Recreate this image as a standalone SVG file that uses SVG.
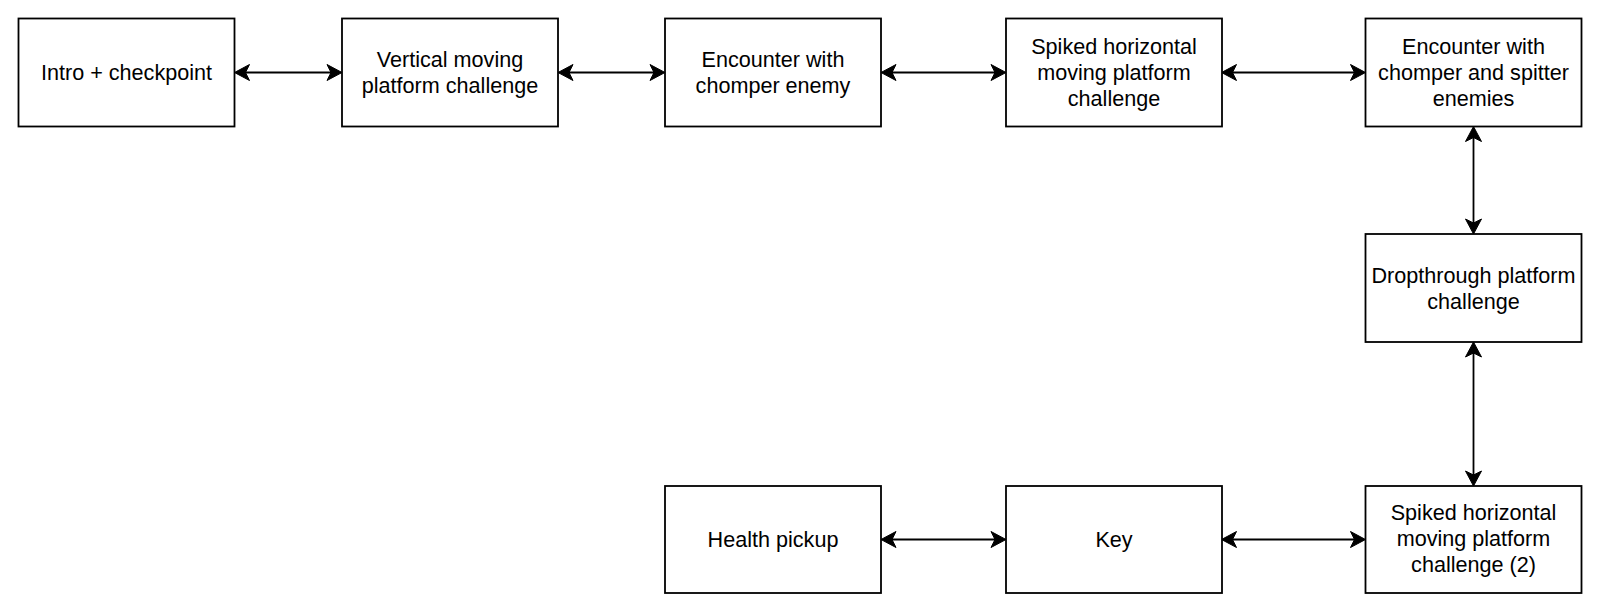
<svg xmlns="http://www.w3.org/2000/svg" width="1600" height="612" viewBox="0 0 1600 612">
<style>
.box{fill:#fff;stroke:#000;stroke-width:1.8}
.lbl{font-family:"Liberation Sans",Arial,Helvetica,sans-serif;font-size:21.6px;fill:#000;text-anchor:middle}
.edge{stroke:#000;stroke-width:1.8;fill:none;marker-start:url(#arr);marker-end:url(#arr)}
</style>
<defs>
<marker id="arr" markerUnits="userSpaceOnUse" viewBox="-16 -9 17 18" refX="-4" refY="0" markerWidth="17" markerHeight="18" orient="auto-start-reverse">
<path d="M0,0 L-15,-8 L-11,0 L-15,8 Z" fill="#000" stroke="#000" stroke-width="1" stroke-linejoin="miter"/>
</marker>
</defs>
<rect width="1600" height="612" fill="#fff"/>
<g id="connectors">
<line class="edge" x1="238.5" y1="72.5" x2="338" y2="72.5"/>
<line class="edge" x1="562" y1="72.5" x2="661" y2="72.5"/>
<line class="edge" x1="885" y1="72.5" x2="1002" y2="72.5"/>
<line class="edge" x1="1225.5" y1="72.5" x2="1361.5" y2="72.5"/>
<line class="edge" x1="1473.5" y1="130.5" x2="1473.5" y2="230"/>
<line class="edge" x1="1473.5" y1="346" x2="1473.5" y2="482"/>
<line class="edge" x1="885" y1="539.5" x2="1002" y2="539.5"/>
<line class="edge" x1="1225.5" y1="539.5" x2="1361.5" y2="539.5"/>
</g>
<g id="n1"><rect class="box" x="18.5" y="18.5" width="216" height="108"/><text class="lbl" x="126.5" y="80">Intro + checkpoint</text></g>
<g id="n2"><rect class="box" x="342" y="18.5" width="216" height="108"/><text class="lbl" x="450" y="67">Vertical moving</text><text class="lbl" x="450" y="93">platform challenge</text></g>
<g id="n3"><rect class="box" x="665" y="18.5" width="216" height="108"/><text class="lbl" x="773" y="67">Encounter with</text><text class="lbl" x="773" y="93">chomper enemy</text></g>
<g id="n4"><rect class="box" x="1006" y="18.5" width="216" height="108"/><text class="lbl" x="1114" y="54">Spiked horizontal</text><text class="lbl" x="1114" y="80">moving platform</text><text class="lbl" x="1114" y="106">challenge</text></g>
<g id="n5"><rect class="box" x="1365.5" y="18.5" width="216" height="108"/><text class="lbl" x="1473.5" y="54">Encounter with</text><text class="lbl" x="1473.5" y="80">chomper and spitter</text><text class="lbl" x="1473.5" y="106">enemies</text></g>
<g id="n6"><rect class="box" x="1365.5" y="234" width="216" height="108"/><text class="lbl" x="1473.5" y="282.5">Dropthrough platform</text><text class="lbl" x="1473.5" y="308.5">challenge</text></g>
<g id="n7"><rect class="box" x="1365.5" y="486" width="216" height="107"/><text class="lbl" x="1473.5" y="520">Spiked horizontal</text><text class="lbl" x="1473.5" y="546">moving platform</text><text class="lbl" x="1473.5" y="572">challenge (2)</text></g>
<g id="n8"><rect class="box" x="1006" y="486" width="216" height="107"/><text class="lbl" x="1114" y="547">Key</text></g>
<g id="n9"><rect class="box" x="665" y="486" width="216" height="107"/><text class="lbl" x="773" y="547">Health pickup</text></g>
</svg>
